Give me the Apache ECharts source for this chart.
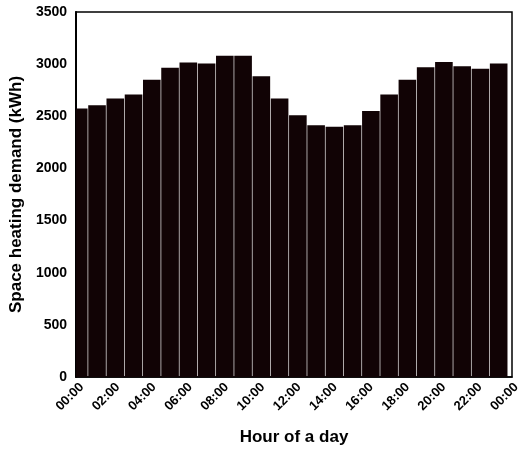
<!DOCTYPE html>
<html>
<head>
<meta charset="utf-8">
<script src="https://cdn.jsdelivr.net/npm/echarts@6/dist/echarts.min.js"></script>
<style>
  html, body { margin: 0; padding: 0; background: #fff; }
  #chart { width: 523px; height: 453px; }
</style>
</head>
<body>
<div id="chart"></div>
<script>
// Hourly space heating demand over one day (kWh)
const hours = [0, 1, 2, 3, 4, 5, 6, 7, 8, 9, 10, 11, 12, 13, 14, 15, 16, 17, 18, 19, 20, 21, 22, 23];
const demand = [2575, 2605, 2670, 2710, 2850, 2965, 3015, 3005, 3080, 3080, 2885, 2670,
                2510, 2415, 2400, 2415, 2550, 2710, 2850, 2970, 3020, 2980, 2955, 3005];
const xTickHours = [0, 2, 4, 6, 8, 10, 12, 14, 16, 18, 20, 22, 24];
const xTickLabels = ['00:00', '02:00', '04:00', '06:00', '08:00', '10:00', '12:00',
                     '14:00', '16:00', '18:00', '20:00', '22:00', '00:00'];
const yTicks = [0, 500, 1000, 1500, 2000, 2500, 3000, 3500];

const FONT = '"Liberation Sans", Arial, sans-serif';
const BAR_COLOR = '#110305';
const chart = echarts.init(document.getElementById('chart'), null, { renderer: 'canvas' });

// Hour bars, one unit wide, cut to the plot frame
function renderHourBar(params, api) {
  const h = api.value(0);
  const v = api.value(1);
  const base = api.coord([h, 0]);
  const top = api.coord([h, v]);
  const w = api.size([1, 0])[0] * 0.965;
  const cs = params.coordSys;
  const shape = echarts.graphic.clipRectByRect(
    { x: base[0] - w / 2, y: top[1], width: w, height: base[1] - top[1] },
    { x: cs.x, y: cs.y, width: cs.width, height: cs.height }
  );
  if (!shape) return null;
  return { type: 'rect', shape: shape, style: { fill: BAR_COLOR } };
}

chart.setOption({
  backgroundColor: '#ffffff',
  animation: false,
  grid: [
    // plot frame holding the bars
    { left: 74, top: 12, width: 438, bottom: 76, show: true, borderColor: '#000', borderWidth: 1.5, backgroundColor: 'transparent' },
    // axis that carries the hour labels (runs out to 24:00)
    { left: 79, top: 12, width: 443, bottom: 76, show: false }
  ],
  xAxis: [
    {
      type: 'value', gridIndex: 0, min: -0.15, max: 23.73,
      axisLine: { show: true, onZero: false, lineStyle: { color: '#000', width: 1.5 } },
      axisTick: { show: false }, axisLabel: { show: false }, splitLine: { show: false },
      name: 'Hour of a day', nameLocation: 'middle', nameGap: 52,
      nameTextStyle: { fontFamily: FONT, fontSize: 17, fontWeight: 'bold', color: '#000' }
    },
    {
      type: 'value', gridIndex: 1, min: -0.15, max: 24,
      axisLine: { show: false }, axisTick: { show: false }, splitLine: { show: false },
      axisLabel: {
        show: true, rotate: 45, margin: 8, customValues: xTickHours,
        fontFamily: FONT, fontSize: 13, fontWeight: 'bold', color: '#000',
        formatter: function (v) { return xTickLabels[xTickHours.indexOf(v)]; }
      }
    }
  ],
  yAxis: [
    {
      type: 'value', gridIndex: 0, min: 0, max: 3500, interval: 500,
      axisLine: { show: true, onZero: false, lineStyle: { color: '#000', width: 2 } },
      axisTick: { show: false }, splitLine: { show: false },
      axisLabel: {
        margin: 9, fontFamily: FONT, fontSize: 14, fontWeight: 'bold', color: '#000',
        formatter: function (v) { return yTicks.indexOf(v) >= 0 ? String(v) : ''; }
      },
      name: 'Space heating demand (kWh)', nameLocation: 'middle', nameGap: 45,
      nameTextStyle: { fontFamily: FONT, fontSize: 17, fontWeight: 'bold', color: '#000' }
    },
    { type: 'value', gridIndex: 1, min: 0, max: 3500, show: false }
  ],
  series: [{
    type: 'custom',
    xAxisIndex: 0, yAxisIndex: 0,
    renderItem: renderHourBar,
    encode: { x: 0, y: 1 },
    data: hours.map(function (h, i) { return [h, demand[i]]; }),
    z: 1
  }]
});
</script>
</body>
</html>
